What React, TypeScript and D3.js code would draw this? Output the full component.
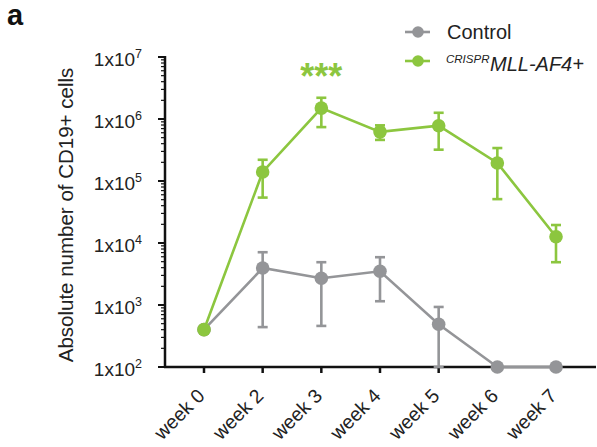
import React from 'react';
import * as d3 from 'd3';

const weeks = ['week 0', 'week 2', 'week 3', 'week 4', 'week 5', 'week 6', 'week 7'];

const controlMean = [400, 3950, 2700, 3500, 490, 100, 100];
const controlHigh = [400, 7100, 4900, 5900, 930, 100, 100];
const controlLow = [400, 440, 460, 1150, 100, 100, 100];

const mllMean = [400, 140000, 1500000, 620000, 780000, 195000, 12600];
const mllHigh = [400, 220000, 2200000, 790000, 1260000, 340000, 19500];
const mllLow = [400, 54000, 740000, 460000, 320000, 51000, 4900];

const yExponents = [2, 3, 4, 5, 6, 7];

const GREEN = '#8cc63f';
const GREY = '#949598';
const FONT = 'Liberation Sans, Arial, sans-serif';

type Series = { mean: number[]; high: number[]; low: number[]; color: string };

const series: Series[] = [
  { mean: controlMean, high: controlHigh, low: controlLow, color: GREY },
  { mean: mllMean, high: mllHigh, low: mllLow, color: GREEN },
];

export default function App() {
  const width = 597;
  const height = 447;
  const axisX = 165;
  const axisY = 367;

  const x = d3.scalePoint<string>().domain(weeks).range([204, 556]);
  const y = d3.scaleLog().domain([100, 1e7]).range([axisY, 57]);

  const line = d3
    .line<number>()
    .x((_, i) => x(weeks[i])!)
    .y((d) => y(d));

  const minorTicks: number[] = [];
  for (let e = 2; e < 7; e++) {
    for (let k = 2; k <= 9; k++) minorTicks.push(k * Math.pow(10, e));
  }

  return (
    <svg
      width={width}
      height={height}
      style={{ position: 'absolute', left: 0, top: 0, background: '#fff' }}
      fontFamily={FONT}
    >
      <text x={7} y={25} fontSize={29} fontWeight="bold" fill="#111">a</text>

      {/* y axis */}
      <line x1={axisX} x2={axisX} y1={y(1e7) - 1} y2={axisY + 1} stroke="#111" strokeWidth={2.5} />
      {minorTicks.map((t) => (
        <line key={t} x1={axisX - 4} x2={axisX} y1={y(t)} y2={y(t)} stroke="#111" strokeWidth={1.2} />
      ))}
      {yExponents.map((e) => (
        <g key={e}>
          <line x1={axisX - 7} x2={axisX} y1={y(Math.pow(10, e))} y2={y(Math.pow(10, e))} stroke="#111" strokeWidth={2} />
          <text x={142} y={y(Math.pow(10, e)) + 9} fontSize={19} textAnchor="end" fill="#222">
            1x10<tspan dy={-8} fontSize={12.5}>{e}</tspan>
          </text>
        </g>
      ))}
      <text
        transform={`translate(73,${(y(1e7) + axisY) / 2 + 3}) rotate(-90)`}
        textAnchor="middle"
        fontSize={20.5}
        fill="#222"
      >
        Absolute number of CD19+ cells
      </text>

      {/* x axis */}
      <line x1={axisX - 1} x2={596} y1={axisY} y2={axisY} stroke="#111" strokeWidth={2.5} />
      {weeks.map((w) => (
        <g key={w}>
          <line x1={x(w)} x2={x(w)} y1={axisY} y2={axisY + 6} stroke="#111" strokeWidth={2.5} />
          <text
            transform={`translate(${x(w)! + 2},${axisY + 30}) rotate(-45)`}
            textAnchor="end"
            fontSize={19.5}
            fill="#222"
          >
            {w}
          </text>
        </g>
      ))}

      {/* series */}
      {series.map((s, si) => (
        <g key={si}>
          <path d={line(s.mean) ?? ''} fill="none" stroke={s.color} strokeWidth={2.6} />
          {s.mean.map((m, i) => {
            const cx = x(weeks[i])!;
            const yh = y(s.high[i]);
            const yl = y(s.low[i]);
            if (Math.abs(yl - yh) < 1) return null;
            return (
              <g key={i} stroke={s.color} strokeWidth={2.6}>
                <line x1={cx} x2={cx} y1={yh} y2={yl} />
                <line x1={cx - 5} x2={cx + 5} y1={yh} y2={yh} />
                <line x1={cx - 5} x2={cx + 5} y1={yl} y2={yl} />
              </g>
            );
          })}
          {s.mean.map((m, i) => (
            <circle key={i} cx={x(weeks[i])} cy={y(m)} r={6.8} fill={s.color} />
          ))}
        </g>
      ))}

      {/* significance */}
      <text x={x('week 3')} y={89} textAnchor="middle" fontSize={36} fontWeight="bold" fill={GREEN}>***</text>

      {/* legend */}
      <g>
        <line x1={405} x2={430} y1={32} y2={32} stroke={GREY} strokeWidth={2.6} />
        <circle cx={418} cy={32} r={5.8} fill={GREY} />
        <text x={447} y={39} fontSize={20} fill="#222">Control</text>
        <line x1={405} x2={430} y1={61} y2={61} stroke={GREEN} strokeWidth={2.6} />
        <circle cx={418} cy={61} r={5.8} fill={GREEN} />
        <text x={446} y={63} fontSize={11.5} fontStyle="italic" fill="#222">CRISPR</text>
        <text x={490} y={71} fontSize={20} fontStyle="italic" fill="#222">MLL-AF4+</text>
      </g>
    </svg>
  );
}
